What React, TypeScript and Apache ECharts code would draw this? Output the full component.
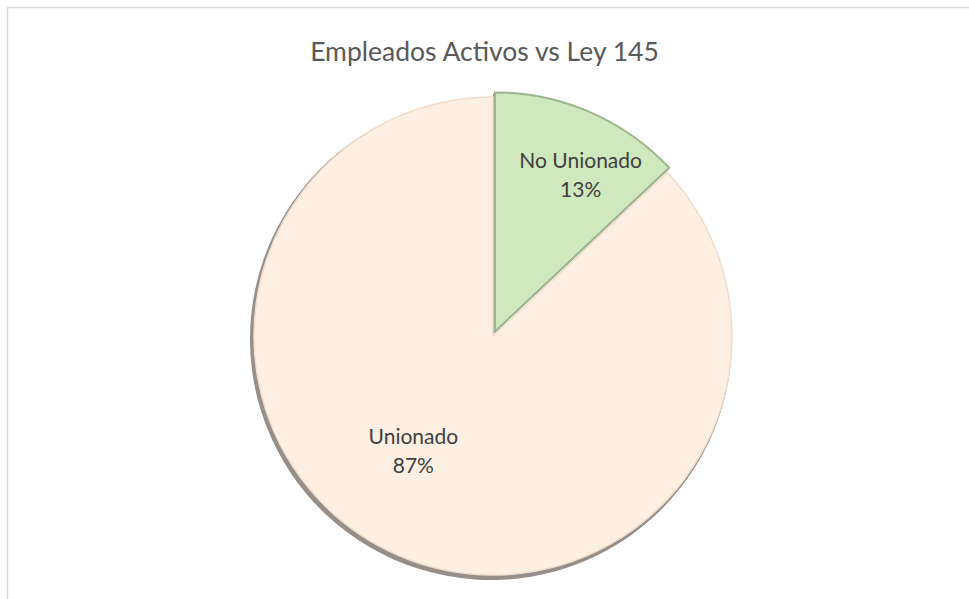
import React, { useEffect, useRef } from "react";
import * as echarts from "echarts";

const titleText = "Empleados Activos vs Ley 145";
const categories = ["No Unionado", "Unionado"];
const values = [13, 87];
const colors = ["#cfe8bd", "#fdefe1"];

export default function App() {
  const ref = useRef<HTMLDivElement>(null);
  useEffect(() => {
    if (!ref.current) return;
    const chart = echarts.init(ref.current, undefined, { renderer: "svg" });
    const data = categories.map((name, i) => ({
      name,
      value: values[i],
      selected: i === 0,
      itemStyle: {
        color: colors[i],
        borderColor: i === 0 ? "#9db58f" : "#f1dccc",
        borderWidth: i === 0 ? 2 : 1.5,
      },
    }));
    const shadowData = categories.map((name, i) => ({
      name,
      value: values[i],
      selected: i === 0,
    }));
    chart.setOption({
      animation: false,
      backgroundColor: "#ffffff",
      title: {
        text: titleText,
        left: "center",
        top: 32,
        textStyle: {
          fontFamily: "Lato, 'Open Sans', sans-serif",
          fontWeight: "normal",
          fontSize: 26.5,
          color: "#595959",
        },
      },
      graphic: [
        {
          type: "rect",
          shape: { x: 7.5, y: 7.5, width: 1000, height: 1000 },
          style: { fill: "none", stroke: "#d9d9d9", lineWidth: 1.5 },
          silent: true,
        },
      ],
      series: [
        {
          type: "pie",
          silent: true,
          center: [491, 339],
          radius: 241,
          startAngle: 90,
          clockwise: true,
          selectedMode: "single",
          selectedOffset: 5,
          label: { show: false },
          labelLine: { show: false },
          itemStyle: { color: "#968f89" },
          emphasis: { disabled: true },
          data: shadowData,
          z: 1,
        },
        {
          type: "pie",
          silent: true,
          center: [493, 336],
          radius: 239,
          startAngle: 90,
          clockwise: true,
          selectedMode: "single",
          selectedOffset: 5,
          emphasis: { disabled: true },
          label: {
            show: true,
            position: "inside",
            formatter: (p: any) => `${p.name}\n${Math.round(p.percent)}%`,
            fontFamily: "Lato, 'Open Sans', sans-serif",
            fontSize: 21,
            lineHeight: 29,
            color: "#404040",
          },
          labelLayout: (p: any) =>
            p.dataIndex === 0 ? { dx: 37, dy: -45 } : { dx: -31, dy: 2 },
          labelLine: { show: false },
          data,
          z: 2,
        },
      ],
    });
    return () => chart.dispose();
  }, []);
  return (
    <div
      ref={ref}
      style={{ position: "fixed", left: 0, top: 0, width: 969, height: 599 }}
    />
  );
}
